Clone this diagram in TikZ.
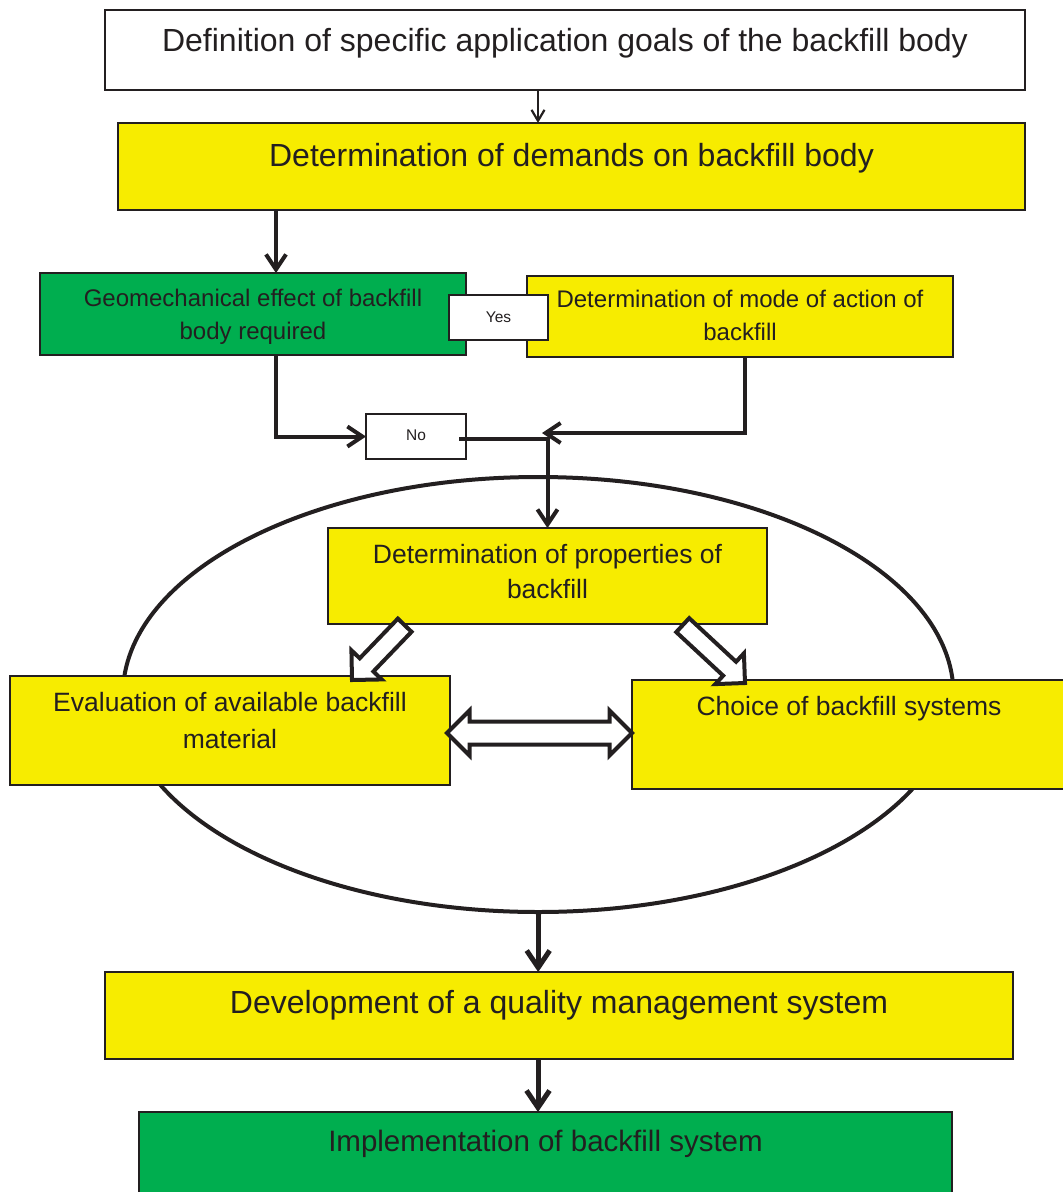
\documentclass[tikz,border=0pt]{standalone}
\usepackage{fontspec}
\setmainfont{Liberation Sans}
\usetikzlibrary{arrows.meta,shapes.arrows,shapes.geometric}
\definecolor{yel}{RGB}{247,236,0}
\definecolor{grn}{RGB}{0,174,79}
\definecolor{ink}{RGB}{35,31,32}
\begin{document}
\begin{tikzpicture}[x=1pt,y=-1pt,
  box/.style={draw=ink, line width=2pt, inner sep=0pt, outer sep=0pt, align=center, text=ink},
  big/.style={font=\fontsize{32}{38}\selectfont},
  mid/.style={font=\fontsize{26.5}{35}\selectfont},
  sml/.style={font=\fontsize{24}{33}\selectfont},
  tiny/.style={font=\fontsize{15.5}{18}\selectfont},
  conn/.style={draw=ink, line width=4pt, -{Straight Barb[length=15pt,width=20pt]}},
  heavy/.style={draw=ink, line width=5pt, -{Straight Barb[length=17pt,width=23pt]}},
  light/.style={draw=ink, line width=2.2pt, -{Straight Barb[length=11pt,width=13pt]}},
  hollow/.style={single arrow, draw=ink, fill=white, line width=4pt, inner xsep=0pt, outer sep=0pt},
]
\useasboundingbox (0,0) rectangle (1063,1192);

% ellipse
\node[ellipse, draw=ink, line width=4pt, minimum width=830.6, minimum height=435, inner sep=0pt, outer sep=0pt] (ell) at (538.2,694.5) {};

% boxes
\node[box, big, fill=white, minimum width=920, text height=41.5, text depth=38.5] (b1) at (565,50)
  {Definition of specific application goals of the backfill body};
\node[box, big, fill=yel, minimum width=907, text height=43.5, text depth=43.5] (b2) at (571.5,166.5)
  {Determination of demands on backfill body};
\node[box, sml, fill=grn, minimum width=426, text height=66.6, text depth=15.4] (geo) at (253,314)
  {Geomechanical effect of backfill\\body required};
\node[box, sml, fill=yel, minimum width=426, text height=64.6, text depth=16.4] (mode) at (740,316.5)
  {Determination of mode of action of\\backfill};
\node[box, tiny, fill=white, minimum width=99, text height=27.6, text depth=17.4] (yes) at (498.5,317.5) {Yes};
\node[box, tiny, fill=white, minimum width=100, text height=26.6, text depth=18.4] (no) at (416,436.5) {No};
\node[box, mid, fill=yel, minimum width=439, text height=70.5, text depth=25.5] (prop) at (547.5,576)
  {Determination of properties of\\backfill};
\node[box, fill=yel, minimum width=440, text height=72.5, text depth=36.5, font=\fontsize{26.5}{37}\selectfont] (eval) at (230,730.5)
  {Evaluation of available backfill\\material};
\node[box, mid, fill=yel, minimum width=434, text height=35.5, text depth=73.5] (choice) at (849,734.5)
  {Choice of backfill systems};
\node[box, big, fill=yel, minimum width=908, text height=41.5, text depth=45.5] (qms) at (559,1015.5)
  {Development of a quality management system};
\node[box, fill=grn, minimum width=813, text height=39.5, text depth=48.5, font=\fontsize{29.5}{34}\selectfont] (impl) at (545.5,1156)
  {Implementation of backfill system};

% hollow arrows
\node[hollow, minimum height=76, inner ysep=7.5pt, single arrow head extend=11.5pt, rotate=226.1, anchor=tip] (ha1) at (352,680) {};
\node[hollow, minimum height=85, inner ysep=7.5pt, single arrow head extend=11.5pt, rotate=-42.9, anchor=tip] (ha2) at (745,683) {};
\node[double arrow, draw=ink, fill=white, line width=4pt, inner xsep=0pt, inner ysep=9.5pt, outer sep=0pt, minimum height=185, double arrow head extend=11pt] (dbl) at (539.5,733) {};

% connectors
\coordinate (meet) at (542,433);
\draw[light] ([xshift=-27pt]b1.south) -- ([xshift=-27pt]b1.south |- b2.north);
\draw[conn] ([xshift=23pt]geo.north |- b2.south) -- ([xshift=23pt]geo.north);
\draw[conn] ([xshift=23pt]geo.south) |- (no.west);
\draw[conn] ([xshift=5pt]mode.south) |- (meet);
\draw[conn] ([xshift=-7pt,yshift=-2.5pt]no.east) -| (prop.north);
\draw[heavy] (ell.south) -- (ell.south |- qms.north);
\draw[heavy] ([xshift=-21pt]qms.south) -- ([xshift=-21pt]qms.south |- impl.north);
\end{tikzpicture}
\end{document}
